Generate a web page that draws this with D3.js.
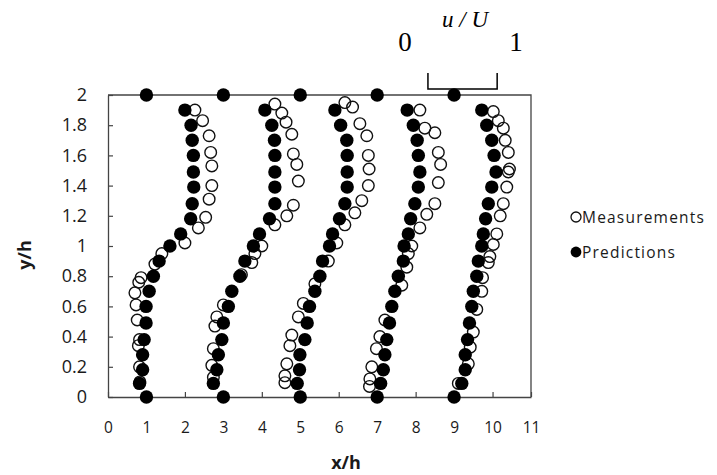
<!DOCTYPE html>
<html>
<head>
<meta charset="utf-8">
<script src="https://cdn.jsdelivr.net/npm/d3@7"></script>
<style>
  body { margin: 0; background: #fff; }
  svg { display: block; }
</style>
</head>
<body>
<div id="chart"></div>
<script>
// stations and wall markers
var stations = [1, 3, 5, 7, 9];
var wallY = [0, 2];

// predictions: shared y levels, one x list per station
var predY = [0.09, 0.18, 0.28, 0.38, 0.49, 0.6, 0.7, 0.8, 0.9, 1.0, 1.08, 1.18, 1.28, 1.39, 1.49, 1.6, 1.7, 1.8, 1.9];
var predX1 = [0.82, 0.90, 0.90, 0.94, 0.99, 0.99, 1.07, 1.18, 1.33, 1.61, 1.89, 2.15, 2.19, 2.23, 2.22, 2.22, 2.19, 2.16, 2.0];
var predX2 = [2.74, 2.83, 2.87, 2.96, 3.0, 3.13, 3.22, 3.43, 3.56, 3.78, 3.94, 4.20, 4.34, 4.34, 4.34, 4.34, 4.33, 4.26, 4.08];
var predX3 = [4.92, 4.98, 4.99, 5.12, 5.18, 5.24, 5.38, 5.51, 5.58, 5.76, 5.84, 6.02, 6.16, 6.22, 6.22, 6.22, 6.21, 6.05, 5.90];
var predX4 = [7.09, 7.16, 7.20, 7.25, 7.32, 7.38, 7.46, 7.55, 7.68, 7.70, 7.81, 7.87, 7.98, 8.07, 8.11, 8.07, 8.04, 7.94, 7.78];
var predX5 = [9.20, 9.29, 9.29, 9.35, 9.40, 9.46, 9.50, 9.59, 9.63, 9.72, 9.76, 9.82, 9.89, 9.98, 10.09, 10.04, 9.98, 9.85, 9.72];

// measurements, per station
var measY1 = [0.10, 0.20, 0.34, 0.38, 0.51, 0.61, 0.69, 0.76, 0.79, 0.88, 0.95, 1.02, 1.12, 1.19, 1.31, 1.40, 1.53, 1.62, 1.73, 1.83, 1.90];
var measX1 = [0.83, 0.82, 0.79, 0.82, 0.76, 0.73, 0.70, 0.80, 0.86, 1.22, 1.40, 2.00, 2.35, 2.54, 2.63, 2.70, 2.70, 2.67, 2.63, 2.46, 2.26];
var measY2 = [0.13, 0.21, 0.32, 0.47, 0.53, 0.61, 0.81, 0.89, 0.95, 1.0, 1.14, 1.20, 1.27, 1.43, 1.54, 1.61, 1.74, 1.82, 1.88, 1.94];
var measX2 = [2.74, 2.70, 2.74, 2.78, 2.83, 3.0, 3.47, 3.74, 3.82, 4.0, 4.34, 4.65, 4.82, 4.95, 4.91, 4.82, 4.78, 4.63, 4.52, 4.34];
var measY3 = [0.095, 0.14, 0.22, 0.34, 0.41, 0.53, 0.62, 0.75, 0.90, 1.02, 1.14, 1.22, 1.30, 1.40, 1.51, 1.60, 1.73, 1.81, 1.92, 1.95];
var measX3 = [4.60, 4.60, 4.65, 4.73, 4.78, 4.95, 5.08, 5.38, 5.73, 5.95, 6.16, 6.42, 6.60, 6.77, 6.79, 6.77, 6.73, 6.55, 6.36, 6.16];
var measY4 = [0.07, 0.12, 0.20, 0.32, 0.40, 0.51, 0.74, 0.86, 0.95, 1.0, 1.12, 1.21, 1.28, 1.42, 1.54, 1.62, 1.75, 1.78, 1.90];
var measX4 = [6.80, 6.81, 6.86, 6.98, 7.07, 7.20, 7.64, 7.77, 7.81, 7.90, 8.11, 8.29, 8.50, 8.59, 8.65, 8.59, 8.50, 8.24, 8.11];
var measY5 = [0.09, 0.22, 0.33, 0.43, 0.58, 0.70, 0.79, 0.89, 0.93, 1.01, 1.08, 1.20, 1.28, 1.39, 1.49, 1.51, 1.62, 1.70, 1.78, 1.83, 1.89];
var measX5 = [9.11, 9.37, 9.42, 9.50, 9.59, 9.72, 9.74, 9.89, 9.93, 10.02, 10.11, 10.20, 10.28, 10.37, 10.41, 10.44, 10.41, 10.33, 10.28, 10.15, 10.02];

// axis ticks
var xTicks = [0, 1, 2, 3, 4, 5, 6, 7, 8, 9, 10, 11];
var yTicks = [0, 0.2, 0.4, 0.6, 0.8, 1, 1.2, 1.4, 1.6, 1.8, 2];

// u/U scale bar, in x/h units
var scaleBar = [8.32, 10.12];

var width = 717;
var height = 475;

var svg = d3.select('#chart')
	.append('svg')
	.attr('width', width)
	.attr('height', height);

var x = d3.scaleLinear().domain([0, 11]).range([108, 531]);
var y = d3.scaleLinear().domain([0, 2]).range([397, 95]);

var axisColor = '#444';
var labelFont = '"Open Sans", sans-serif';

// frame (top and right)
svg.append('path')
	.attr('d', 'M' + x(0) + ',' + y(2) + 'H' + x(11) + 'V' + y(0))
	.attr('fill', 'none')
	.attr('stroke', axisColor)
	.attr('stroke-width', 1.3);

var xAxis = svg.append('g')
	.attr('transform', 'translate(0,' + y(0) + ')')
	.call(d3.axisBottom(x).tickValues(xTicks).tickSizeInner(-5).tickSizeOuter(0).tickPadding(25).tickFormat(d3.format('d')));

var yAxis = svg.append('g')
	.attr('transform', 'translate(' + x(0) + ',0)')
	.call(d3.axisLeft(y).tickValues(yTicks).tickSizeInner(-5).tickSizeOuter(0).tickPadding(21)
		.tickFormat(function(d) { return +d.toFixed(1); }));

[xAxis, yAxis].forEach(function(g) {
	g.select('.domain').attr('stroke', axisColor).attr('stroke-width', 1.3);
	g.selectAll('.tick line').attr('stroke', axisColor).attr('stroke-width', 1.2);
	g.selectAll('.tick text')
		.attr('fill', '#1a1a1a')
		.style('font-family', labelFont);
});
xAxis.selectAll('.tick text').style('font-size', '15.5px');
yAxis.selectAll('.tick text').style('font-size', '18px');

// axis titles
svg.append('text')
	.attr('x', 346)
	.attr('y', 469)
	.attr('text-anchor', 'middle')
	.style('font-family', labelFont)
	.style('font-size', '18px')
	.style('font-weight', 'bold')
	.attr('fill', '#1a1a1a')
	.text('x/h');

svg.append('text')
	.attr('transform', 'translate(31,255) rotate(-90)')
	.attr('text-anchor', 'middle')
	.style('font-family', labelFont)
	.style('font-size', '18px')
	.style('font-weight', 'bold')
	.attr('fill', '#1a1a1a')
	.text('y/h');

// build point lists
var measSets = [[measX1, measY1], [measX2, measY2], [measX3, measY3], [measX4, measY4], [measX5, measY5]];
var predSets = [predX1, predX2, predX3, predX4, predX5];

var measPoints = [];
measSets.forEach(function(s) {
	s[0].forEach(function(v, i) { measPoints.push({ x: v, y: s[1][i] }); });
});

var predPoints = [];
predSets.forEach(function(s) {
	s.forEach(function(v, i) { predPoints.push({ x: v, y: predY[i] }); });
});
stations.forEach(function(st) {
	wallY.forEach(function(w) { predPoints.push({ x: st, y: w }); });
});

svg.append('g')
	.selectAll('circle')
	.data(measPoints)
	.enter()
	.append('circle')
	.attr('cx', function(d) { return x(d.x); })
	.attr('cy', function(d) { return y(d.y); })
	.attr('r', 5.8)
	.attr('fill', 'none')
	.attr('stroke', '#111')
	.attr('stroke-width', 1.4);

svg.append('g')
	.selectAll('circle')
	.data(predPoints)
	.enter()
	.append('circle')
	.attr('cx', function(d) { return x(d.x); })
	.attr('cy', function(d) { return y(d.y); })
	.attr('r', 6.7)
	.attr('fill', '#000');

// legend
var legend = svg.append('g');
legend.append('circle')
	.attr('cx', 576).attr('cy', 217).attr('r', 5)
	.attr('fill', 'none').attr('stroke', '#111').attr('stroke-width', 1.3);
legend.append('circle')
	.attr('cx', 576).attr('cy', 252).attr('r', 5.4)
	.attr('fill', '#000');
legend.append('text')
	.attr('x', 582).attr('y', 222.5)
	.style('font-family', labelFont).style('font-size', '15.5px').style('letter-spacing', '1.2px')
	.attr('fill', '#1a1a1a')
	.text('Measurements');
legend.append('text')
	.attr('x', 582).attr('y', 258)
	.style('font-family', labelFont).style('font-size', '15.5px').style('letter-spacing', '1.2px')
	.attr('fill', '#1a1a1a')
	.text('Predictions');

// u/U scale bar
svg.append('path')
	.attr('d', 'M' + x(scaleBar[0]) + ',73V89H' + x(scaleBar[1]) + 'V73')
	.attr('fill', 'none')
	.attr('stroke', '#000')
	.attr('stroke-width', 1.5);

var serif = '"Liberation Serif", "Times New Roman", serif';
svg.append('text')
	.attr('x', 405).attr('y', 51)
	.attr('text-anchor', 'middle')
	.style('font-family', serif).style('font-size', '27px')
	.text('0');
svg.append('text')
	.attr('x', 516).attr('y', 51)
	.attr('text-anchor', 'middle')
	.style('font-family', serif).style('font-size', '27px')
	.text('1');
svg.append('text')
	.attr('x', 465).attr('y', 27)
	.attr('text-anchor', 'middle')
	.style('font-family', serif).style('font-size', '23px').style('font-style', 'italic')
	.text('u / U');
</script>
</body>
</html>
